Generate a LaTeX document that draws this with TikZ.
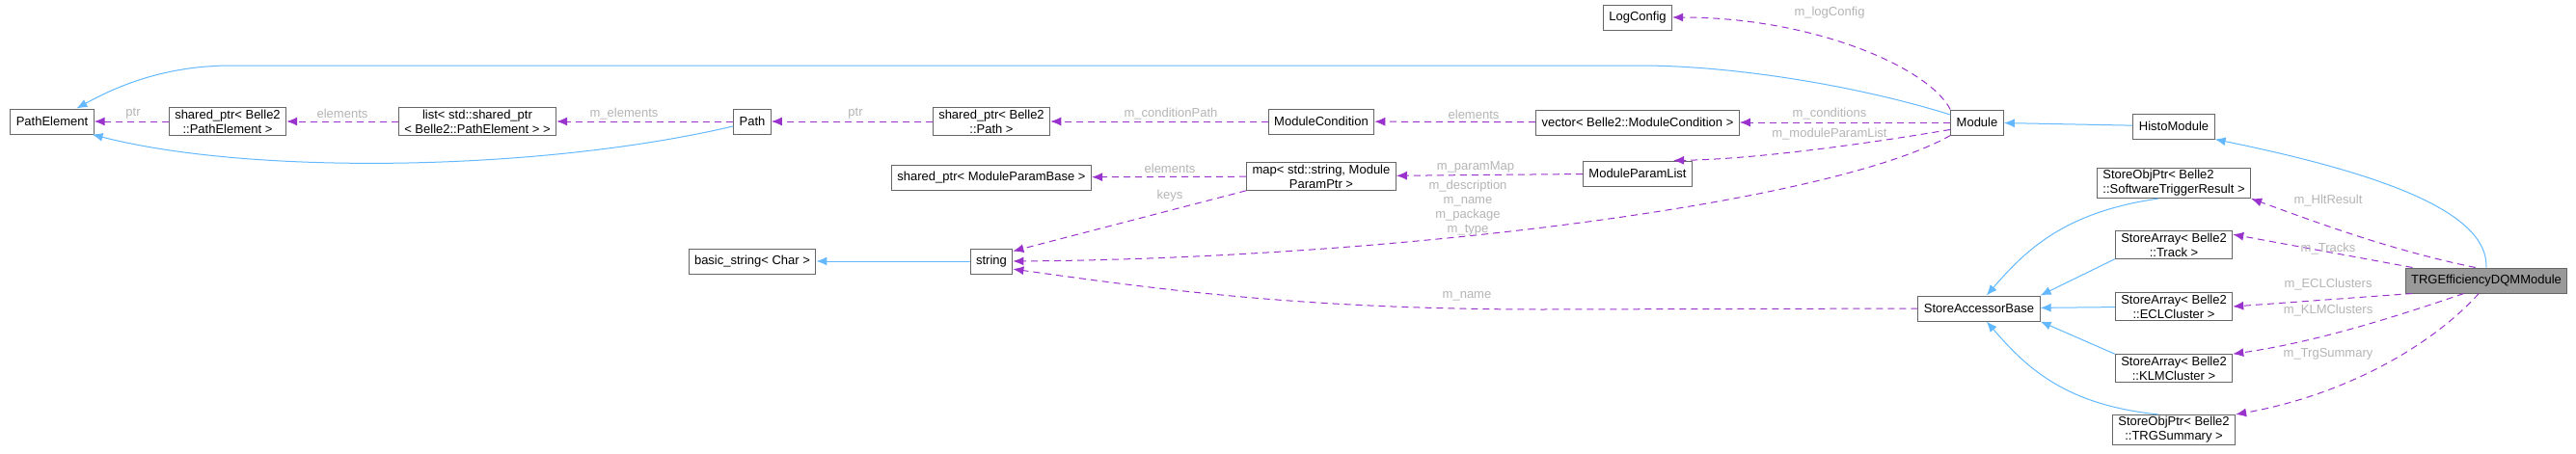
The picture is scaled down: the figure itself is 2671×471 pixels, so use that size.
\documentclass[tikz,border=0pt]{standalone}
\usepackage{fontspec}
\setmainfont{Liberation Sans}
\usetikzlibrary{arrows.meta}
\definecolor{inhblue}{HTML}{63B8FF}
\definecolor{usepurple}{HTML}{9A32CD}
\definecolor{lblgray}{HTML}{B4B4B4}
\definecolor{boxgray}{HTML}{666666}
\tikzset{every picture/.style={line width=1pt}}
\tikzset{
  cls/.style={draw=boxgray,fill=white,inner xsep=6pt,inner ysep=2pt,minimum height=26pt,align=center,font=\fontsize{13}{15}\selectfont},
  inherit/.style={draw=inhblue,-{Latex[length=11pt,width=9pt]}},
  uses/.style={draw=usepurple,dash pattern=on 7pt off 5pt,-{Latex[length=11pt,width=9pt]}},
  lbl/.style={text=lblgray,inner sep=0pt,align=center,font=\fontsize{13}{15}\selectfont}
}

\begin{document}
\begin{tikzpicture}[x=1pt,y=1pt,yscale=-1,xscale=1]
\path[use as bounding box] (0,0) rectangle (2671,471);

% Text Node
\node[cls] (pelem) at (54,126) {PathElement};
\node[cls] (sppelem) at (236,126) {shared\_ptr< Belle2\\::PathElement >};
\node[cls] (lstpelem) at (495,126) {list< std::shared\_ptr\\< Belle2::PathElement > >};
\node[cls] (path) at (780,126) {Path};
\node[cls] (sppath) at (1028,126) {shared\_ptr< Belle2\\::Path >};
\node[cls] (modcond) at (1370,126) {ModuleCondition};
\node[cls] (veccond) at (1698,127) {vector< Belle2::ModuleCondition >};
\node[cls] (logcfg) at (1698,18) {LogConfig};
\node[cls] (module) at (2050,127) {Module};
\node[cls] (histo) at (2254,131) {HistoModule};
\node[cls] (spmpb) at (1028,184) {shared\_ptr< ModuleParamBase >};
\node[cls] (parmap) at (1370,183) {map< std::string, Module\\ParamPtr >};
\node[cls] (mplist) at (1698,180) {ModuleParamList};
\node[cls] (bstring) at (780,271) {basic\_string< Char >};
\node[cls] (string) at (1028,271) {string};
\node[cls] (sab) at (2052,320) {StoreAccessorBase};
\node[cls,align=left] (swt) at (2254,190) {StoreObjPtr< Belle2\\::SoftwareTriggerResult >};
\node[cls] (tracks) at (2254,254) {StoreArray< Belle2\\::Track >};
\node[cls] (ecl) at (2254,318) {StoreArray< Belle2\\::ECLCluster >};
\node[cls] (klm) at (2254,382) {StoreArray< Belle2\\::KLMCluster >};
\node[cls] (trgsum) at (2254,446) {StoreObjPtr< Belle2\\::TRGSummary >};
\node[cls,fill=black!40] (trgeff) at (2578,291) {TRGEfficiencyDQMModule};

% Connection
\draw[inherit] (module.164) .. controls (1930,90) and (1800,68) .. (1700,68) -- (240,68) .. controls (170,68) and (120,90) .. (pelem.28);
\draw[inherit] (path.194) .. controls (560,178) and (260,182) .. (pelem.-18);
\draw[uses] (sppelem) -- (pelem);
\draw[uses] (lstpelem) -- (sppelem);
\draw[uses] (path) -- (lstpelem);
\draw[uses] (sppath) -- (path);
\draw[uses] (modcond) -- (sppath);
\draw[uses] (veccond) -- (modcond);
\draw[uses] (module) -- (veccond);
\draw[uses] (module.north west) .. controls (2000,70) and (1880,18) .. (logcfg.east);
\draw[uses] (module.195) .. controls (1930,150) and (1820,165) .. (mplist.20);
\draw[uses] (mplist) -- (parmap);
\draw[uses] (parmap) -- (spmpb);
\draw[uses] (parmap.south west) -- (string.25);
\draw[uses] (module.206) .. controls (1900,210) and (1450,268) .. (string.east);
\draw[uses] (sab.west) -- (1600,321) .. controls (1350,321) and (1200,300) .. (string.-20);
\draw[inherit] (string) -- (bstring);
\draw[inherit] (histo) -- (module);
\draw[inherit] (trgeff.north) .. controls (2580,220) and (2470,180) .. (histo.south east);
\draw[inherit] (swt.225) .. controls (2140,220) and (2100,260) .. (sab.60);
\draw[inherit] (tracks.south west) -- (sab.north east);
\draw[inherit] (ecl) -- (sab);
\draw[inherit] (klm.north west) -- (sab.south east);
\draw[inherit] (trgsum.135) .. controls (2140,420) and (2100,380) .. (sab.-60);
\draw[uses] (trgeff.130) .. controls (2480,260) and (2400,230) .. (swt.south east);
\draw[uses] (trgeff.170) -- (tracks.10);
\draw[uses] (trgeff.190) -- (ecl.east);
\draw[uses] (trgeff.-150) .. controls (2480,330) and (2400,355) .. (klm.north east);
\draw[uses] (trgeff.-120) .. controls (2520,360) and (2430,410) .. (trgsum.north east);

% Text Node
\node[lbl] (lptr) at (138,118) {ptr};
\node[lbl] (lelem) at (355,118) {elements};
\node[lbl] (lmelem) at (647,118) {m\_elements};
\node[lbl] (lptrb) at (887,118) {ptr};
\node[lbl] (lcondpath) at (1214,118) {m\_conditionPath};
\node[lbl] (lelemb) at (1528,119) {elements};
\node[lbl] (lconds) at (1897,118) {m\_conditions};
\node[lbl] (lmpl) at (1897,139) {m\_moduleParamList};
\node[lbl] (llog) at (1897,13) {m\_logConfig};
\node[lbl] (lpmap) at (1530,173) {m\_paramMap};
\node[lbl] (lelemc) at (1213,175) {elements};
\node[lbl] (lkeys) at (1213,203) {keys};
\node[lbl] (ldesc) at (1522,216) {m\_description\\m\_name\\m\_package\\m\_type};
\node[lbl] (lname) at (1521,307) {m\_name};
\node[lbl] (lhlt) at (2414,208) {m\_HltResult};
\node[lbl] (ltrk) at (2414,258) {m\_Tracks};
\node[lbl] (lecl) at (2414,295) {m\_ECLClusters};
\node[lbl] (lklm) at (2414,322) {m\_KLMClusters};
\node[lbl] (ltrg) at (2414,367) {m\_TrgSummary};

\end{tikzpicture}
\end{document}
